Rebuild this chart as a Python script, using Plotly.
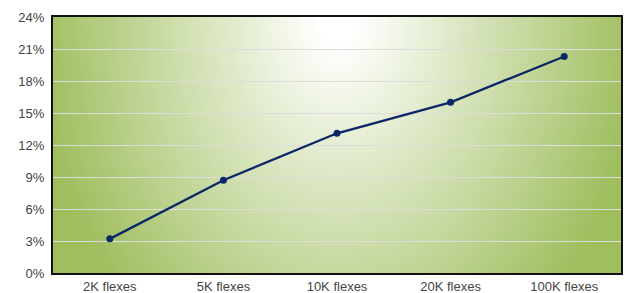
import base64
import plotly.graph_objects as go

categories = ["2K flexes", "5K flexes", "10K flexes", "20K flexes", "100K flexes"]
values = [3.2, 8.7, 13.1, 16.0, 20.3]
tick_vals = [0, 3, 6, 9, 12, 15, 18, 21, 24]
tick_text = ["0%", "3%", "6%", "9%", "12%", "15%", "18%", "21%", "24%"]

svg = (
    '<svg xmlns="http://www.w3.org/2000/svg" width="568" height="256" '
    'viewBox="0 0 568 256" preserveAspectRatio="none">'
    '<defs><radialGradient id="g" gradientUnits="userSpaceOnUse" cx="285" cy="0" r="300" '
    'gradientTransform="translate(285,0) scale(1,1.35) translate(-285,0)">'
    '<stop offset="0" stop-color="#ffffff"/>'
    '<stop offset="0.06" stop-color="#ffffff"/>'
    '<stop offset="1" stop-color="#9fbe5e"/>'
    '</radialGradient></defs>'
    '<rect x="0" y="0" width="568" height="256" fill="url(#g)"/></svg>'
)
src = "data:image/svg+xml;base64," + base64.b64encode(svg.encode()).decode()

fig = go.Figure(
    go.Scatter(
        x=categories,
        y=values,
        mode="lines+markers",
        line=dict(color="#0d2667", width=2.3),
        marker=dict(color="#0d2667", size=7),
        hoverinfo="skip",
    )
)

fig.add_layout_image(
    dict(source=src, xref="paper", yref="paper", x=0, y=1, sizex=1, sizey=1,
         sizing="stretch", layer="below", xanchor="left", yanchor="top")
)

fig.update_layout(
    width=625,
    height=293,
    margin=dict(l=53, r=4, t=17, b=20),
    paper_bgcolor="white",
    plot_bgcolor="rgba(0,0,0,0)",
    showlegend=False,
    font=dict(family="Liberation Sans, Arial, sans-serif", size=13, color="#444444"),
)
fig.update_xaxes(
    type="category",
    range=[-0.5, 4.5],
    automargin=False,
    showgrid=False,
    showline=True,
    linecolor="#111111",
    linewidth=2,
    mirror=True,
    ticks="",
    tickfont=dict(size=13, color="#444444"),
)
fig.update_yaxes(
    range=[0, 24],
    automargin=False,
    tickvals=tick_vals,
    ticktext=tick_text,
    showgrid=True,
    gridcolor="#dcdcdc",
    gridwidth=1,
    zeroline=False,
    showline=True,
    linecolor="#111111",
    linewidth=2,
    mirror=True,
    ticks="",
    ticklabelstandoff=4,
    tickfont=dict(size=13, color="#444444"),
)

fig.write_html("out.html", config={"displayModeBar": False},
               post_script="document.body.style.margin='0';")
